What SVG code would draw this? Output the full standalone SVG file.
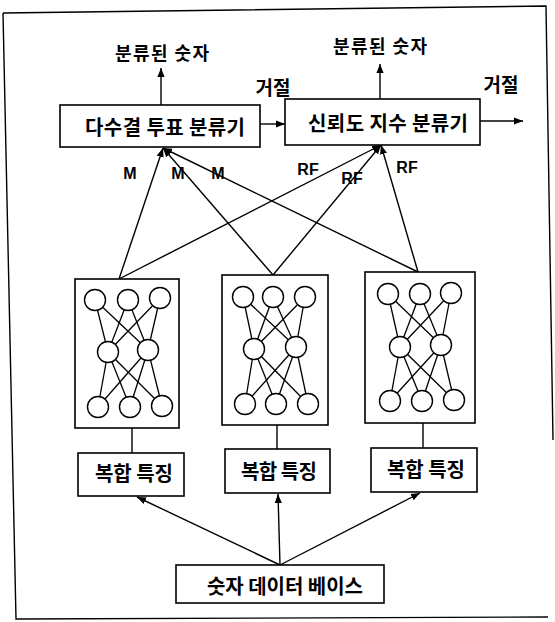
<svg xmlns="http://www.w3.org/2000/svg" width="555" height="622" viewBox="0 0 555 622">
<style>
.box{fill:#fff;stroke:#000;stroke-width:1.6}
.ln{stroke:#000;stroke-width:1.4;fill:none}
.nl{stroke:#000;stroke-width:1.3}
.nd{fill:#fff;stroke:#000;stroke-width:1.4}
.t{font-family:"Noto Sans CJK KR","Noto Sans",sans-serif;font-weight:700;font-size:20px;fill:#000;text-anchor:middle;dominant-baseline:central}
.s{font-size:18px}
.r{font-size:19px}
.l{font-family:"Liberation Sans",Arial,sans-serif;font-weight:700;font-size:16px;fill:#000;text-anchor:middle;dominant-baseline:central}
</style>
<defs>
<marker id="ah" viewBox="0 0 10 10" refX="10" refY="5" markerWidth="9" markerHeight="9" markerUnits="userSpaceOnUse" orient="auto">
<path d="M0,1 L10,5 L0,9 Z" fill="#000"/>
</marker>
</defs>
<rect width="555" height="622" fill="#fff"/>
<g id="frame">
<polyline class="ln" points="3,13 546,6 553,440"/>
<polyline class="ln" points="3,13 16,619 548,617"/>
</g>
<g id="connectors">
<line class="ln" x1="161" y1="105" x2="161" y2="68" marker-end="url(#ah)"/>
<line class="ln" x1="380" y1="99" x2="380" y2="64" marker-end="url(#ah)"/>
<line class="ln" x1="260" y1="124" x2="285" y2="124" marker-end="url(#ah)"/>
<line class="ln" x1="480" y1="121" x2="523" y2="121" marker-end="url(#ah)"/>
<line class="ln" x1="119" y1="279" x2="163" y2="148" marker-end="url(#ah)"/>
<line class="ln" x1="273" y1="275" x2="163" y2="148" marker-end="url(#ah)"/>
<line class="ln" x1="418" y1="272" x2="163" y2="148" marker-end="url(#ah)"/>
<line class="ln" x1="119" y1="279" x2="381" y2="145" marker-end="url(#ah)"/>
<line class="ln" x1="273" y1="275" x2="381" y2="145" marker-end="url(#ah)"/>
<line class="ln" x1="418" y1="272" x2="381" y2="145" marker-end="url(#ah)"/>
<line class="ln" x1="132" y1="428" x2="132" y2="453"/>
<line class="ln" x1="277" y1="425" x2="277" y2="449"/>
<line class="ln" x1="423" y1="423" x2="423" y2="448"/>
<line class="ln" x1="280" y1="565" x2="137" y2="497" marker-end="url(#ah)"/>
<line class="ln" x1="280" y1="565" x2="278" y2="494" marker-end="url(#ah)"/>
<line class="ln" x1="280" y1="565" x2="420" y2="493" marker-end="url(#ah)"/>
</g>
<g id="labels">
<text class="t s" x="162" y="52" textLength="94">분류된 숫자</text>
<text class="t s" x="380" y="45" textLength="94">분류된 숫자</text>
<text class="t r" x="273" y="86">거절</text>
<text class="t r" x="501" y="83">거절</text>
<text class="l" x="130" y="173">M</text>
<text class="l" x="178" y="173">M</text>
<text class="l" x="218" y="173">M</text>
<text class="l" x="308" y="169">RF</text>
<text class="l" x="352" y="178">RF</text>
<text class="l" x="407" y="167">RF</text>
</g>
<g id="majority">
<rect class="box" x="60" y="105" width="200" height="42"/>
<text class="t" x="165" y="126" textLength="160">다수결 투표 분류기</text>
</g>
<g id="confidence">
<rect class="box" x="285" y="99" width="195" height="46"/>
<text class="t" x="388" y="122" textLength="160">신뢰도 지수 분류기</text>
</g>
<g id="nn1">
<rect class="box" x="75" y="279" width="104" height="149"/>
<g class="nl">
<line x1="95" y1="300" x2="108" y2="352"/><line x1="95" y1="300" x2="148" y2="350"/>
<line x1="128" y1="300" x2="108" y2="352"/><line x1="128" y1="300" x2="148" y2="350"/>
<line x1="160" y1="298" x2="108" y2="352"/><line x1="160" y1="298" x2="148" y2="350"/>
<line x1="108" y1="352" x2="98" y2="407"/><line x1="108" y1="352" x2="130" y2="407"/><line x1="108" y1="352" x2="162" y2="406"/>
<line x1="148" y1="350" x2="98" y2="407"/><line x1="148" y1="350" x2="130" y2="407"/><line x1="148" y1="350" x2="162" y2="406"/>
</g>
<circle class="nd" cx="95" cy="300" r="10.5"/><circle class="nd" cx="128" cy="300" r="10.5"/><circle class="nd" cx="160" cy="298" r="10.5"/>
<circle class="nd" cx="108" cy="352" r="10.5"/><circle class="nd" cx="148" cy="350" r="10.5"/>
<circle class="nd" cx="98" cy="407" r="10.5"/><circle class="nd" cx="130" cy="407" r="10.5"/><circle class="nd" cx="162" cy="406" r="10.5"/>
</g>
<g id="nn2">
<rect class="box" x="222" y="275" width="106" height="150"/>
<g class="nl">
<line x1="243" y1="297" x2="254" y2="349"/><line x1="243" y1="297" x2="296" y2="347"/>
<line x1="273" y1="297" x2="254" y2="349"/><line x1="273" y1="297" x2="296" y2="347"/>
<line x1="305" y1="297" x2="254" y2="349"/><line x1="305" y1="297" x2="296" y2="347"/>
<line x1="254" y1="349" x2="245" y2="404"/><line x1="254" y1="349" x2="276" y2="404"/><line x1="254" y1="349" x2="308" y2="404"/>
<line x1="296" y1="347" x2="245" y2="404"/><line x1="296" y1="347" x2="276" y2="404"/><line x1="296" y1="347" x2="308" y2="404"/>
</g>
<circle class="nd" cx="243" cy="297" r="10.5"/><circle class="nd" cx="273" cy="297" r="10.5"/><circle class="nd" cx="305" cy="297" r="10.5"/>
<circle class="nd" cx="254" cy="349" r="10.5"/><circle class="nd" cx="296" cy="347" r="10.5"/>
<circle class="nd" cx="245" cy="404" r="10.5"/><circle class="nd" cx="276" cy="404" r="10.5"/><circle class="nd" cx="308" cy="404" r="10.5"/>
</g>
<g id="nn3">
<rect class="box" x="365" y="272" width="110" height="151"/>
<g class="nl">
<line x1="388" y1="294" x2="400" y2="347"/><line x1="388" y1="294" x2="441" y2="345"/>
<line x1="420" y1="294" x2="400" y2="347"/><line x1="420" y1="294" x2="441" y2="345"/>
<line x1="451" y1="293" x2="400" y2="347"/><line x1="451" y1="293" x2="441" y2="345"/>
<line x1="400" y1="347" x2="390" y2="401"/><line x1="400" y1="347" x2="422" y2="401"/><line x1="400" y1="347" x2="454" y2="400"/>
<line x1="441" y1="345" x2="390" y2="401"/><line x1="441" y1="345" x2="422" y2="401"/><line x1="441" y1="345" x2="454" y2="400"/>
</g>
<circle class="nd" cx="388" cy="294" r="10.5"/><circle class="nd" cx="420" cy="294" r="10.5"/><circle class="nd" cx="451" cy="293" r="10.5"/>
<circle class="nd" cx="400" cy="347" r="10.5"/><circle class="nd" cx="441" cy="345" r="10.5"/>
<circle class="nd" cx="390" cy="401" r="10.5"/><circle class="nd" cx="422" cy="401" r="10.5"/><circle class="nd" cx="454" cy="400" r="10.5"/>
</g>
<g id="feat1">
<rect class="box" x="78" y="453" width="106" height="43"/>
<text class="t" x="134" y="472" textLength="78">복합 특징</text>
</g>
<g id="feat2">
<rect class="box" x="225" y="449" width="105" height="44"/>
<text class="t" x="279" y="470" textLength="76">복합 특징</text>
</g>
<g id="feat3">
<rect class="box" x="371" y="448" width="106" height="44"/>
<text class="t" x="426" y="468" textLength="78">복합 특징</text>
</g>
<g id="database">
<rect class="box" x="176" y="565" width="208" height="38"/>
<text class="t" x="285" y="585" textLength="156">숫자 데이터 베이스</text>
</g>
</svg>
